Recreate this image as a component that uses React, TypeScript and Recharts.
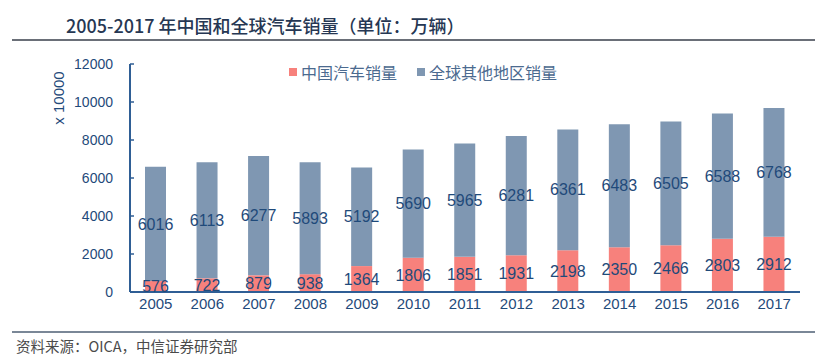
import { BarChart, Bar, XAxis, YAxis, LabelList } from 'recharts';

const years = ['2005', '2006', '2007', '2008', '2009', '2010', '2011', '2012', '2013', '2014', '2015', '2016', '2017'];
const chinaSales = [576, 722, 879, 938, 1364, 1806, 1851, 1931, 2198, 2350, 2466, 2803, 2912];
const restOfWorld = [6016, 6113, 6277, 5893, 5192, 5690, 5965, 6281, 6361, 6483, 6505, 6588, 6768];
const yTicks = [0, 2000, 4000, 6000, 8000, 10000, 12000];
const legendItems = ['中国汽车销量', '全球其他地区销量'];

const data = years.map((y, i) => ({ year: y, china: chinaSales[i], world: restOfWorld[i] }));

const RED = '#F7817C';
const GREY_BLUE = '#7F97B2';
const AXIS = '#2F5E95';
const TEXT = '#1F4A7A';
const FONT = '"Liberation Sans", Arial, "Noto Sans CJK SC", sans-serif';
const CJK = '"Noto Sans CJK SC", "Liberation Sans", sans-serif';
const Y_TICK_MARGIN = 17;

// y-axis ticks point inward (to the right of the axis line)
// eslint-disable-next-line @typescript-eslint/no-explicit-any
function YTick({ x, y, payload }: any) {
  const ax = x + Y_TICK_MARGIN;
  return (
    <g>
      <line x1={ax} x2={ax + 4} y1={y} y2={y} stroke={AXIS} strokeWidth={1.5} />
      <text x={x} y={y} dy="0.355em" textAnchor="end" fontSize={14} fill={TEXT} fontFamily={FONT}>
        {payload.value}
      </text>
    </g>
  );
}

export default function App() {
  const colors = [RED, GREY_BLUE];
  return (
    <div style={{ position: 'absolute', left: 0, top: 0, width: 834, height: 361, background: '#fff', overflow: 'hidden' }}>
      {/* title */}
      <div style={{ position: 'absolute', left: 66, top: 13, fontFamily: CJK, fontSize: 18, color: '#263753', fontWeight: 500, whiteSpace: 'nowrap', lineHeight: '24px' }}>
        2005-2017 年中国和全球汽车销量（单位：万辆）
      </div>
      <div style={{ position: 'absolute', left: 12, top: 39, width: 803, height: 1.5, background: '#6A6F78' }} />

      {/* y-axis unit */}
      <div style={{ position: 'absolute', left: 58, top: 98, transform: 'translate(-50%, -50%) rotate(-90deg)', fontFamily: FONT, fontSize: 15, color: TEXT, whiteSpace: 'nowrap' }}>
        x 10000
      </div>

      {/* legend */}
      <div style={{ position: 'absolute', left: 289, top: 61, display: 'flex', gap: 20, fontFamily: CJK, fontSize: 16, color: '#4B6A8F', lineHeight: '22px' }}>
        {legendItems.map((label, i) => (
          <div key={label} style={{ display: 'flex', alignItems: 'center', gap: 4 }}>
            <span style={{ width: 8, height: 8, background: colors[i], display: 'inline-block' }} />
            <span>{label}</span>
          </div>
        ))}
      </div>

      <div style={{ position: 'absolute', left: 0, top: 0 }}>
        <BarChart width={834} height={361} data={data} margin={{ top: 64, right: 34, bottom: 39, left: 60 }} barSize={21}>
          <XAxis
            dataKey="year"
            axisLine={{ stroke: AXIS, strokeWidth: 2 }}
            tickLine={false}
            tickSize={0}
            tickMargin={6}
            height={30}
            tick={{ fontSize: 15, fill: TEXT, fontFamily: FONT }}
          />
          <YAxis
            type="number"
            domain={[0, 12000]}
            ticks={yTicks}
            width={70}
            axisLine={{ stroke: AXIS, strokeWidth: 2 }}
            tickLine={false}
            tickSize={0}
            tickMargin={Y_TICK_MARGIN}
            tick={<YTick />}
            interval={0}
          />
          <Bar dataKey="china" stackId="a" fill={RED} isAnimationActive={false}>
            <LabelList dataKey="china" position="center" fontSize={16} fill={TEXT} fontFamily={FONT} />
          </Bar>
          <Bar dataKey="world" stackId="a" fill={GREY_BLUE} isAnimationActive={false}>
            <LabelList dataKey="world" position="center" fontSize={16} fill={TEXT} fontFamily={FONT} />
          </Bar>
        </BarChart>
      </div>

      {/* source */}
      <div style={{ position: 'absolute', left: 12, top: 331, width: 803, height: 1.5, background: '#7A8797' }} />
      <div style={{ position: 'absolute', left: 16, top: 337, fontFamily: CJK, fontSize: 14.5, color: '#4A4A4A', whiteSpace: 'nowrap', lineHeight: '18px' }}>
        资料来源：OICA，中信证券研究部
      </div>
    </div>
  );
}
